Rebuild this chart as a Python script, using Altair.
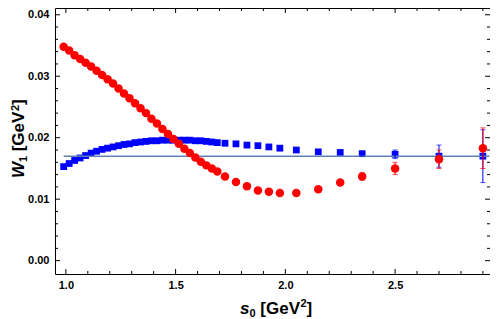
import altair as alt
import pandas as pd

# ---- data ----
s0 = [0.99, 1.015, 1.04, 1.065, 1.09, 1.115, 1.14, 1.165, 1.19, 1.215,
      1.24, 1.265, 1.29, 1.315, 1.34, 1.365, 1.39, 1.415, 1.44, 1.465,
      1.49, 1.515, 1.54, 1.565, 1.59, 1.615, 1.64, 1.665, 1.69,
      1.725, 1.775, 1.825, 1.875, 1.925, 1.975, 2.05, 2.15, 2.25, 2.35,
      2.5, 2.7, 2.9]
red = [0.0348, 0.0342, 0.0334, 0.0328, 0.0322, 0.0316, 0.0309, 0.0302, 0.0295, 0.0288,
       0.0280, 0.0272, 0.0264, 0.0256, 0.0248, 0.0240, 0.0231, 0.0223, 0.0214, 0.0206,
       0.0198, 0.0190, 0.0182, 0.0175, 0.0168, 0.0161, 0.0155, 0.0150, 0.0145,
       0.0137, 0.0128, 0.0121, 0.0114, 0.0112, 0.0110, 0.0110, 0.0116, 0.0127, 0.0137,
       0.0150, 0.0165, 0.0183]
blue = [0.0153, 0.0158, 0.0163, 0.0167, 0.0171, 0.0175, 0.0178, 0.0181, 0.0183, 0.0185,
        0.0187, 0.0189, 0.0190, 0.0192, 0.0193, 0.0194, 0.0195, 0.0195, 0.0196, 0.0196,
        0.0196, 0.0196, 0.0196, 0.0196, 0.0195, 0.0195, 0.0194, 0.0193, 0.0192,
        0.0191, 0.0190, 0.0188, 0.0187, 0.0185, 0.0183, 0.0180, 0.0177, 0.0176, 0.0174,
        0.0173, 0.0170, 0.0170]

err_s0 = [2.25, 2.35, 2.5, 2.7, 2.9]
err_red_c = [0.0127, 0.0137, 0.0150, 0.0165, 0.0183]
err_red = [0.0004, 0.0006, 0.0010, 0.0015, 0.0033]
err_blue_c = [0.0176, 0.0174, 0.0173, 0.0170, 0.0170]
err_blue = [0.0002, 0.0004, 0.0007, 0.0018, 0.0043]

fit_s0 = [0.99, 2.93]
fit_w = [0.017, 0.017]

x_major = [1.0, 1.5, 2.0, 2.5]
x_minor = [1.1, 1.2, 1.3, 1.4, 1.6, 1.7, 1.8, 1.9, 2.1, 2.2, 2.3, 2.4, 2.6, 2.7, 2.8, 2.9]
y_major = [0.0, 0.01, 0.02, 0.03, 0.04]
y_minor = [0.002, 0.004, 0.006, 0.008, 0.012, 0.014, 0.016, 0.018,
           0.022, 0.024, 0.026, 0.028, 0.032, 0.034, 0.036, 0.038]

W, H = 435, 266
FONT = "Liberation Sans"
BIG, SMALL = 17, 11

xs = alt.Scale(domain=[0.9505, 2.9324], nice=False, zero=False)
ys = alt.Scale(domain=[-0.00217, 0.0411], nice=False, zero=False)

pts = pd.DataFrame({"s0": s0, "red": red, "blue": blue})
errs = pd.DataFrame({
    "s0": err_s0,
    "rlo": [c - e for c, e in zip(err_red_c, err_red)],
    "rhi": [c + e for c, e in zip(err_red_c, err_red)],
    "blo": [c - e for c, e in zip(err_blue_c, err_blue)],
    "bhi": [c + e for c, e in zip(err_blue_c, err_blue)],
})
fit = pd.DataFrame({"s0": fit_s0, "w": fit_w})

xax = alt.Axis(values=x_major, format=".1f", title="", ticks=False, tickSize=0,
               domain=False, grid=False, labelFontWeight="bold", labelFontSize=11,
               labelPadding=5, labelFont=FONT, labelColor="black")
yax = alt.Axis(values=y_major, format=".2f", title="", ticks=False, tickSize=0,
               domain=False, grid=False, labelFontWeight="bold", labelFontSize=11,
               labelPadding=6, labelFont=FONT, labelColor="black")


def X(f):
    return alt.X(f, scale=xs, axis=xax)


def Y(f):
    return alt.Y(f, scale=ys, axis=yax)


blue_pts = alt.Chart(pts).mark_square(color="#0000FF", size=46, opacity=1).encode(
    x=X("s0:Q"), y=Y("blue:Q"))
fit_line = alt.Chart(fit).mark_line(color="#5E81B5", strokeWidth=1.5).encode(
    x=X("s0:Q"), y=Y("w:Q"))
blue_bar = alt.Chart(errs).mark_rule(color="#0000FF", strokeWidth=1).encode(
    x=X("s0:Q"), y=Y("blo:Q"), y2="bhi:Q")
blue_cap_lo = alt.Chart(errs).mark_tick(color="#0000FF", orient="horizontal", size=5, thickness=1).encode(
    x=X("s0:Q"), y=Y("blo:Q"))
blue_cap_hi = alt.Chart(errs).mark_tick(color="#0000FF", orient="horizontal", size=5, thickness=1).encode(
    x=X("s0:Q"), y=Y("bhi:Q"))
red_pts = alt.Chart(pts).mark_circle(color="#FF0000", size=72, opacity=1).encode(
    x=X("s0:Q"), y=Y("red:Q"))
red_bar = alt.Chart(errs).mark_rule(color="#FF0000", strokeWidth=1).encode(
    x=X("s0:Q"), y=Y("rlo:Q"), y2="rhi:Q")
red_cap_lo = alt.Chart(errs).mark_tick(color="#FF0000", orient="horizontal", size=5, thickness=1).encode(
    x=X("s0:Q"), y=Y("rlo:Q"))
red_cap_hi = alt.Chart(errs).mark_tick(color="#FF0000", orient="horizontal", size=5, thickness=1).encode(
    x=X("s0:Q"), y=Y("rhi:Q"))


def xticks(vals, length):
    d = pd.DataFrame({"s0": vals})
    bot = alt.Chart(d).mark_rule(color="black", strokeWidth=1).encode(
        x=X("s0:Q"), y=alt.value(H), y2=alt.value(H - length))
    top = alt.Chart(d).mark_rule(color="black", strokeWidth=1).encode(
        x=X("s0:Q"), y=alt.value(0), y2=alt.value(length))
    return [bot, top]


def yticks(vals, length):
    d = pd.DataFrame({"w": vals})
    left = alt.Chart(d).mark_rule(color="black", strokeWidth=1).encode(
        y=Y("w:Q"), x=alt.value(0), x2=alt.value(length))
    right = alt.Chart(d).mark_rule(color="black", strokeWidth=1).encode(
        y=Y("w:Q"), x=alt.value(W), x2=alt.value(W - length))
    return [left, right]


tick_layers = xticks(x_major, 5) + xticks(x_minor, 3) + yticks(y_major, 5) + yticks(y_minor, 3)

one = pd.DataFrame({"k": [0]})


def piece(txt, px, py, size, italic=False, angle=0):
    kw = dict(font=FONT, fontWeight="bold", fontSize=size, color="black",
              align="left", baseline="alphabetic")
    if italic:
        kw["fontStyle"] = "italic"
    if angle:
        kw["angle"] = angle
    return alt.Chart(one).mark_text(**kw).encode(
        x=alt.value(px), y=alt.value(py), text=alt.value(txt))


# x title: s_0 [GeV^2]
xb = 305.7
x_title = [
    piece("s", 185, xb, BIG, italic=True),
    piece("0", 194.5, xb + 3, SMALL),
    piece("[GeV", 205.3, xb, BIG),
    piece("2", 245.5, xb - 7, SMALL),
    piece("]", 251.6, xb, BIG),
]
# y title: W_1 [GeV^2] (rotated)
yb = -31
y_title = [
    piece("W", yb, 170, BIG, italic=True, angle=270),
    piece("1", yb + 3, 154, SMALL, angle=270),
    piece("[GeV", yb, 143.3, BIG, angle=270),
    piece("2", yb - 5, 103, SMALL, angle=270),
    piece("]", yb, 96.9, BIG, angle=270),
]

chart = alt.layer(
    blue_pts, fit_line, blue_bar, blue_cap_lo, blue_cap_hi,
    red_pts, red_bar, red_cap_lo, red_cap_hi, *tick_layers, *x_title, *y_title
).properties(
    width=W, height=H,
    autosize=alt.AutoSizeParams(type="none"),
    padding={"left": 47, "top": 0, "right": 0, "bottom": 45},
).configure_view(stroke="black", strokeWidth=1)

chart.save("out.html", embed_options={"renderer": "svg", "actions": False})
